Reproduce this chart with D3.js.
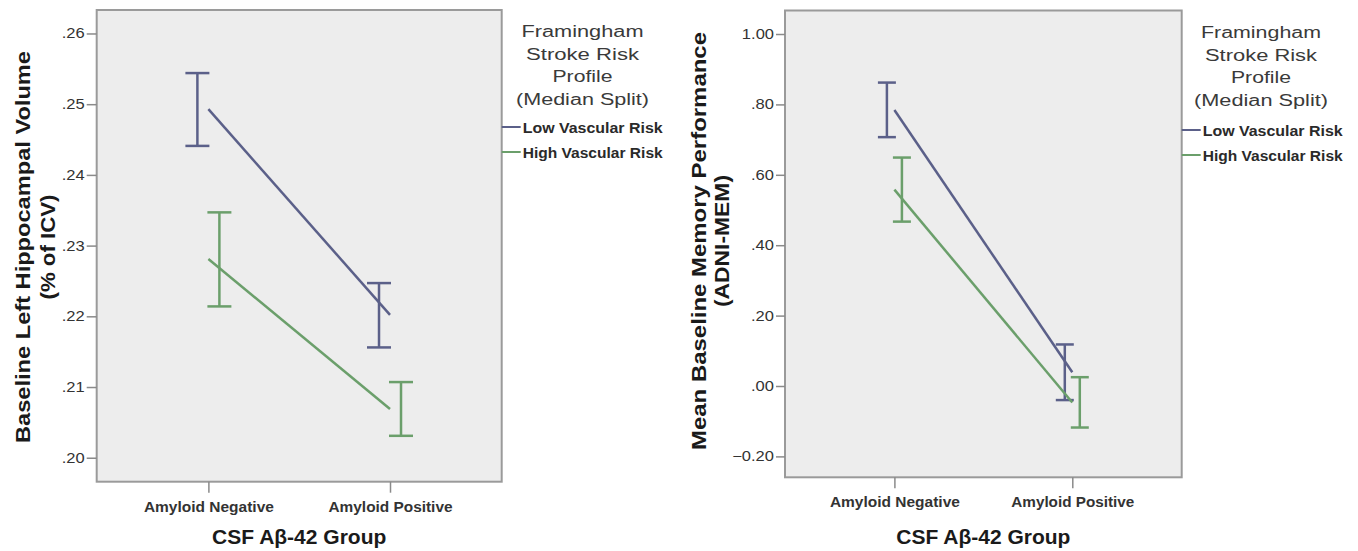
<!DOCTYPE html>
<html>
<head>
<meta charset="utf-8">
<script src="https://cdn.jsdelivr.net/npm/d3@7"></script>
<style>
  body { margin: 0; background: #fff; }
  svg { display: block; font-family: "Liberation Sans", Arial, sans-serif; }
</style>
</head>
<body>
<script>
var groups = ['Amyloid Negative', 'Amyloid Positive'];
var riskGroups = ['Low Vascular Risk', 'High Vascular Risk'];
var legendTitle = ['Framingham', 'Stroke Risk', 'Profile', '(Median Split)'];
var xTitle = 'CSF A\u03b2-42 Group';

// left panel: hippocampal volume
var hippoTitle = ['Baseline Left Hippocampal Volume', '(% of ICV)'];
var hippoTicks = [0.20, 0.21, 0.22, 0.23, 0.24, 0.25, 0.26];
var hippoLowMean = [0.2493, 0.2202];
var hippoLowCI = [[0.2441, 0.2544], [0.2156, 0.2247]];
var hippoHighMean = [0.2281, 0.2069];
var hippoHighCI = [[0.2214, 0.2347], [0.2031, 0.2107]];

// right panel: memory (ADNI-MEM)
var memTitle = ['Mean Baseline Memory Performance', '(ADNI-MEM)'];
var memTicks = [-0.20, 0.00, 0.20, 0.40, 0.60, 0.80, 1.00];
var memLowMean = [0.784, 0.039];
var memLowCI = [[0.707, 0.862], [-0.040, 0.118]];
var memHighMean = [0.558, -0.047];
var memHighCI = [[0.467, 0.649], [-0.118, 0.025]];

var lowColor = '#5b6089', highColor = '#6b9f6b';

var svg = d3.select('body').append('svg').attr('width', 1358).attr('height', 551);

function fmtTick(v) {
  return d3.format('.2f')(v).replace(/^(-?)0\./, '$1.');
}

// the picture's text runs wider than Arial, so stretch it to the measured length
function fitText(sel, len) {
  sel.attr('textLength', len).attr('lengthAdjust', 'spacingAndGlyphs');
}
function widen(sel, k) {
  sel.each(function() {
    var w = this.getComputedTextLength();
    fitText(d3.select(this), w * k);
  });
}

function drawPanel(p) {
  var x = d3.scalePoint().domain(groups).range([p.left, p.right]).padding(0.615);
  var y = d3.scaleLinear().domain(p.domain).range([p.bottom, p.top]);
  var g = svg.append('g');

  g.append('rect')
      .attr('x', p.left).attr('y', p.top)
      .attr('width', p.right - p.left).attr('height', p.bottom - p.top)
      .attr('fill', '#ededed').attr('stroke', '#9a9a9a').attr('stroke-width', 2);

  var ya = g.append('g')
      .attr('transform', 'translate(' + p.left + ',0)')
      .call(d3.axisLeft(y).tickValues(p.ticks).tickFormat(fmtTick).tickSize(p.yTick).tickPadding(2));
  ya.attr('font-family', null).attr('font-size', null);
  ya.select('.domain').remove();
  ya.selectAll('line').attr('stroke', '#8a8a8a').attr('stroke-width', 1.5);
  ya.selectAll('text').attr('font-size', 14).attr('fill', '#333');
  widen(ya.selectAll('text'), 1.18);

  var xa = g.append('g')
      .attr('transform', 'translate(0,' + p.bottom + ')')
      .call(d3.axisBottom(x).tickSize(11).tickPadding(9));
  xa.attr('font-family', null).attr('font-size', null);
  xa.select('.domain').remove();
  xa.selectAll('line').attr('stroke', '#8a8a8a').attr('stroke-width', 1.5);
  xa.selectAll('text').attr('font-size', 14).attr('font-weight', 'bold').attr('fill', '#333')
      .each(function(d, i) { fitText(d3.select(this), p.xLabelLen[i]); });

  g.append('text')
      .attr('x', (p.left + p.right) / 2).attr('y', 544)
      .attr('text-anchor', 'middle').attr('font-size', 21).attr('font-weight', 'bold')
      .attr('fill', '#1a1a1a').text(xTitle);

  p.yTitle.forEach(function(t, i) {
    var yt = g.append('text')
        .attr('transform', 'translate(' + p.titleX[i] + ',' + p.titleY + ') rotate(-90)')
        .attr('text-anchor', 'middle').attr('font-size', 21).attr('font-weight', 'bold')
        .attr('fill', '#1a1a1a').text(t);
    fitText(yt, p.titleLen[i]);
  });

  var series = [
    {mean: p.lowMean, ci: p.lowCI, color: lowColor, shift: -p.dodge},
    {mean: p.highMean, ci: p.highCI, color: highColor, shift: p.dodge}
  ];

  series.forEach(function(s) {
    var bars = g.selectAll(null).data(s.ci).enter().append('g')
        .attr('transform', function(d, i) { return 'translate(' + (x(groups[i]) + s.shift) + ',0)'; })
        .attr('stroke', s.color);
    bars.append('line')
        .attr('y1', function(d) { return y(d[0]); })
        .attr('y2', function(d) { return y(d[1]); })
        .attr('stroke-width', 2.5);
    [0, 1].forEach(function(k) {
      bars.append('line')
          .attr('x1', -p.cap).attr('x2', p.cap)
          .attr('y1', function(d) { return y(d[k]); })
          .attr('y2', function(d) { return y(d[k]); })
          .attr('stroke-width', 2.5);
    });
  });

  var line = d3.line()
      .x(function(d, i) { return x(groups[i]); })
      .y(function(d) { return y(d); });
  series.forEach(function(s) {
    g.append('path').datum(s.mean)
        .attr('d', line).attr('fill', 'none')
        .attr('stroke', s.color).attr('stroke-width', 2.5);
  });

  // legend
  var lg = g.append('g');
  lg.selectAll('text.ttl').data(legendTitle).enter().append('text')
      .attr('class', 'ttl')
      .attr('x', p.legendX)
      .attr('y', function(d, i) { return p.legendTop + i * 22.7; })
      .attr('text-anchor', 'middle').attr('font-size', 16).attr('fill', '#3a3a3a')
      .text(function(d) { return d; })
      .each(function(d, i) { fitText(d3.select(this), p.legendLen[i]); });

  riskGroups.forEach(function(name, i) {
    var yy = p.itemY + i * 25;
    lg.append('line')
        .attr('x1', p.right).attr('x2', p.right + 19)
        .attr('y1', yy).attr('y2', yy)
        .attr('stroke', i === 0 ? lowColor : highColor).attr('stroke-width', 2);
    var t = lg.append('text')
        .attr('x', p.right + 21).attr('y', yy + 6)
        .attr('font-size', 14).attr('font-weight', 'bold').attr('fill', '#2a2a2a')
        .text(name);
    fitText(t, 140);
  });
}

drawPanel({
  left: 96.7, right: 501.7, top: 10, bottom: 481.7,
  domain: [0.19661, 0.26332], ticks: hippoTicks, yTick: 10,
  lowMean: hippoLowMean, lowCI: hippoLowCI, highMean: hippoHighMean, highCI: hippoHighCI,
  dodge: 11, cap: 12, xLabelLen: [130, 124],
  yTitle: hippoTitle, titleX: [30, 55], titleY: 247, titleLen: [392, 105],
  legendX: 582.5, legendTop: 37, legendLen: [122, 113, 60, 133], itemY: 127
});

drawPanel({
  left: 785, right: 1181.7, top: 10.5, bottom: 477.3,
  domain: [-0.2594, 1.0668], ticks: memTicks, yTick: 9,
  lowMean: memLowMean, lowCI: memLowCI, highMean: memHighMean, highCI: memHighCI,
  dodge: 7.5, cap: 9, xLabelLen: [130, 123],
  yTitle: memTitle, titleX: [706, 729], titleY: 241, titleLen: [418, 132],
  legendX: 1261, legendTop: 38, legendLen: [120, 112, 60, 134], itemY: 130
});
</script>
</body>
</html>
